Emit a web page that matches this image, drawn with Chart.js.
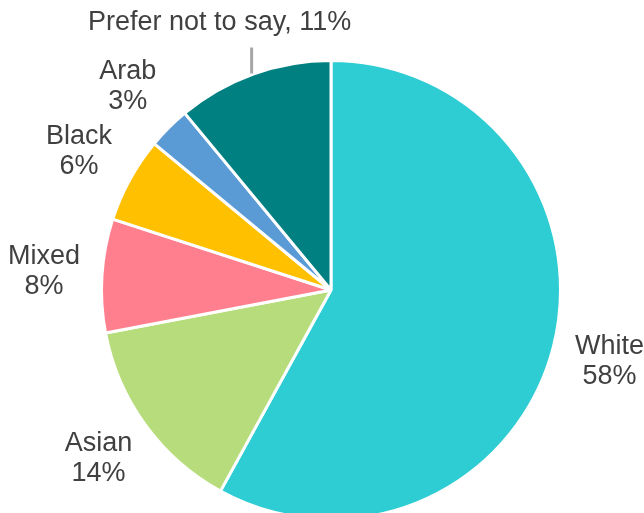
<!DOCTYPE html>
<html>
<head>
<meta charset="utf-8">
<script src="https://cdn.jsdelivr.net/npm/chart.js@4"></script>
<style>
  html, body { margin: 0; padding: 0; background: #fff; overflow: hidden; }
  #wrap { position: absolute; left: 0; top: 0; width: 644px; height: 540px; }
</style>
</head>
<body>
<div id="wrap"><canvas id="pieChart"></canvas></div>
<script>
const categories = ['White', 'Asian', 'Mixed', 'Black', 'Arab', 'Prefer not to say'];
const shares = [58, 14, 8, 6, 3, 11];
const colours = ['#2ECCD3', '#B7DC7C', '#FF7F8F', '#FFC000', '#5B9BD5', '#008080'];

// labels outside each slice, "Name" over "NN%"; last one on one line with a leader
const outsideLabels = {
  id: 'outsideLabels',
  afterDatasetsDraw(chart) {
    const ctx = chart.ctx;
    const meta = chart.getDatasetMeta(0);
    ctx.save();
    ctx.font = '27px "Liberation Sans", Arial, sans-serif';
    ctx.fillStyle = '#404040';
    ctx.textAlign = 'center';
    ctx.textBaseline = 'middle';
    meta.data.forEach((arc, i) => {
      const mid = (arc.startAngle + arc.endAngle) / 2;
      const cx = arc.x, cy = arc.y;
      const name = categories[i];
      const pct = shares[i] + '%';
      const d = arc.outerRadius + 58;
      if (i === categories.length - 1) {
        const x = cx + Math.cos(mid) * d - 14;
        const y = cy + Math.sin(mid) * d + 3;
        ctx.fillText(name + ', ' + pct, x, y);
        const lx = x + 32;
        ctx.strokeStyle = '#A6A6A6';
        ctx.lineWidth = 3;
        ctx.beginPath();
        ctx.moveTo(lx, y + 25);
        ctx.lineTo(lx, y + 51);
        ctx.stroke();
      } else {
        const x = cx + Math.cos(mid) * d;
        const y = cy + Math.sin(mid) * d;
        ctx.fillText(name, x, y - 15);
        ctx.fillText(pct, x, y + 15);
      }
    });
    ctx.restore();
  }
};

new Chart(document.getElementById('pieChart').getContext('2d'), {
  type: 'pie',
  data: {
    labels: categories,
    datasets: [{
      data: shares,
      backgroundColor: colours,
      borderColor: '#ffffff',
      borderWidth: 3
    }]
  },
  options: {
    responsive: true,
    maintainAspectRatio: false,
    animation: false,
    layout: { padding: { left: 100, right: 82, top: 59, bottom: 19 } },
    plugins: {
      legend: { display: false },
      tooltip: { enabled: false }
    }
  },
  plugins: [outsideLabels]
});
</script>
</body>
</html>
